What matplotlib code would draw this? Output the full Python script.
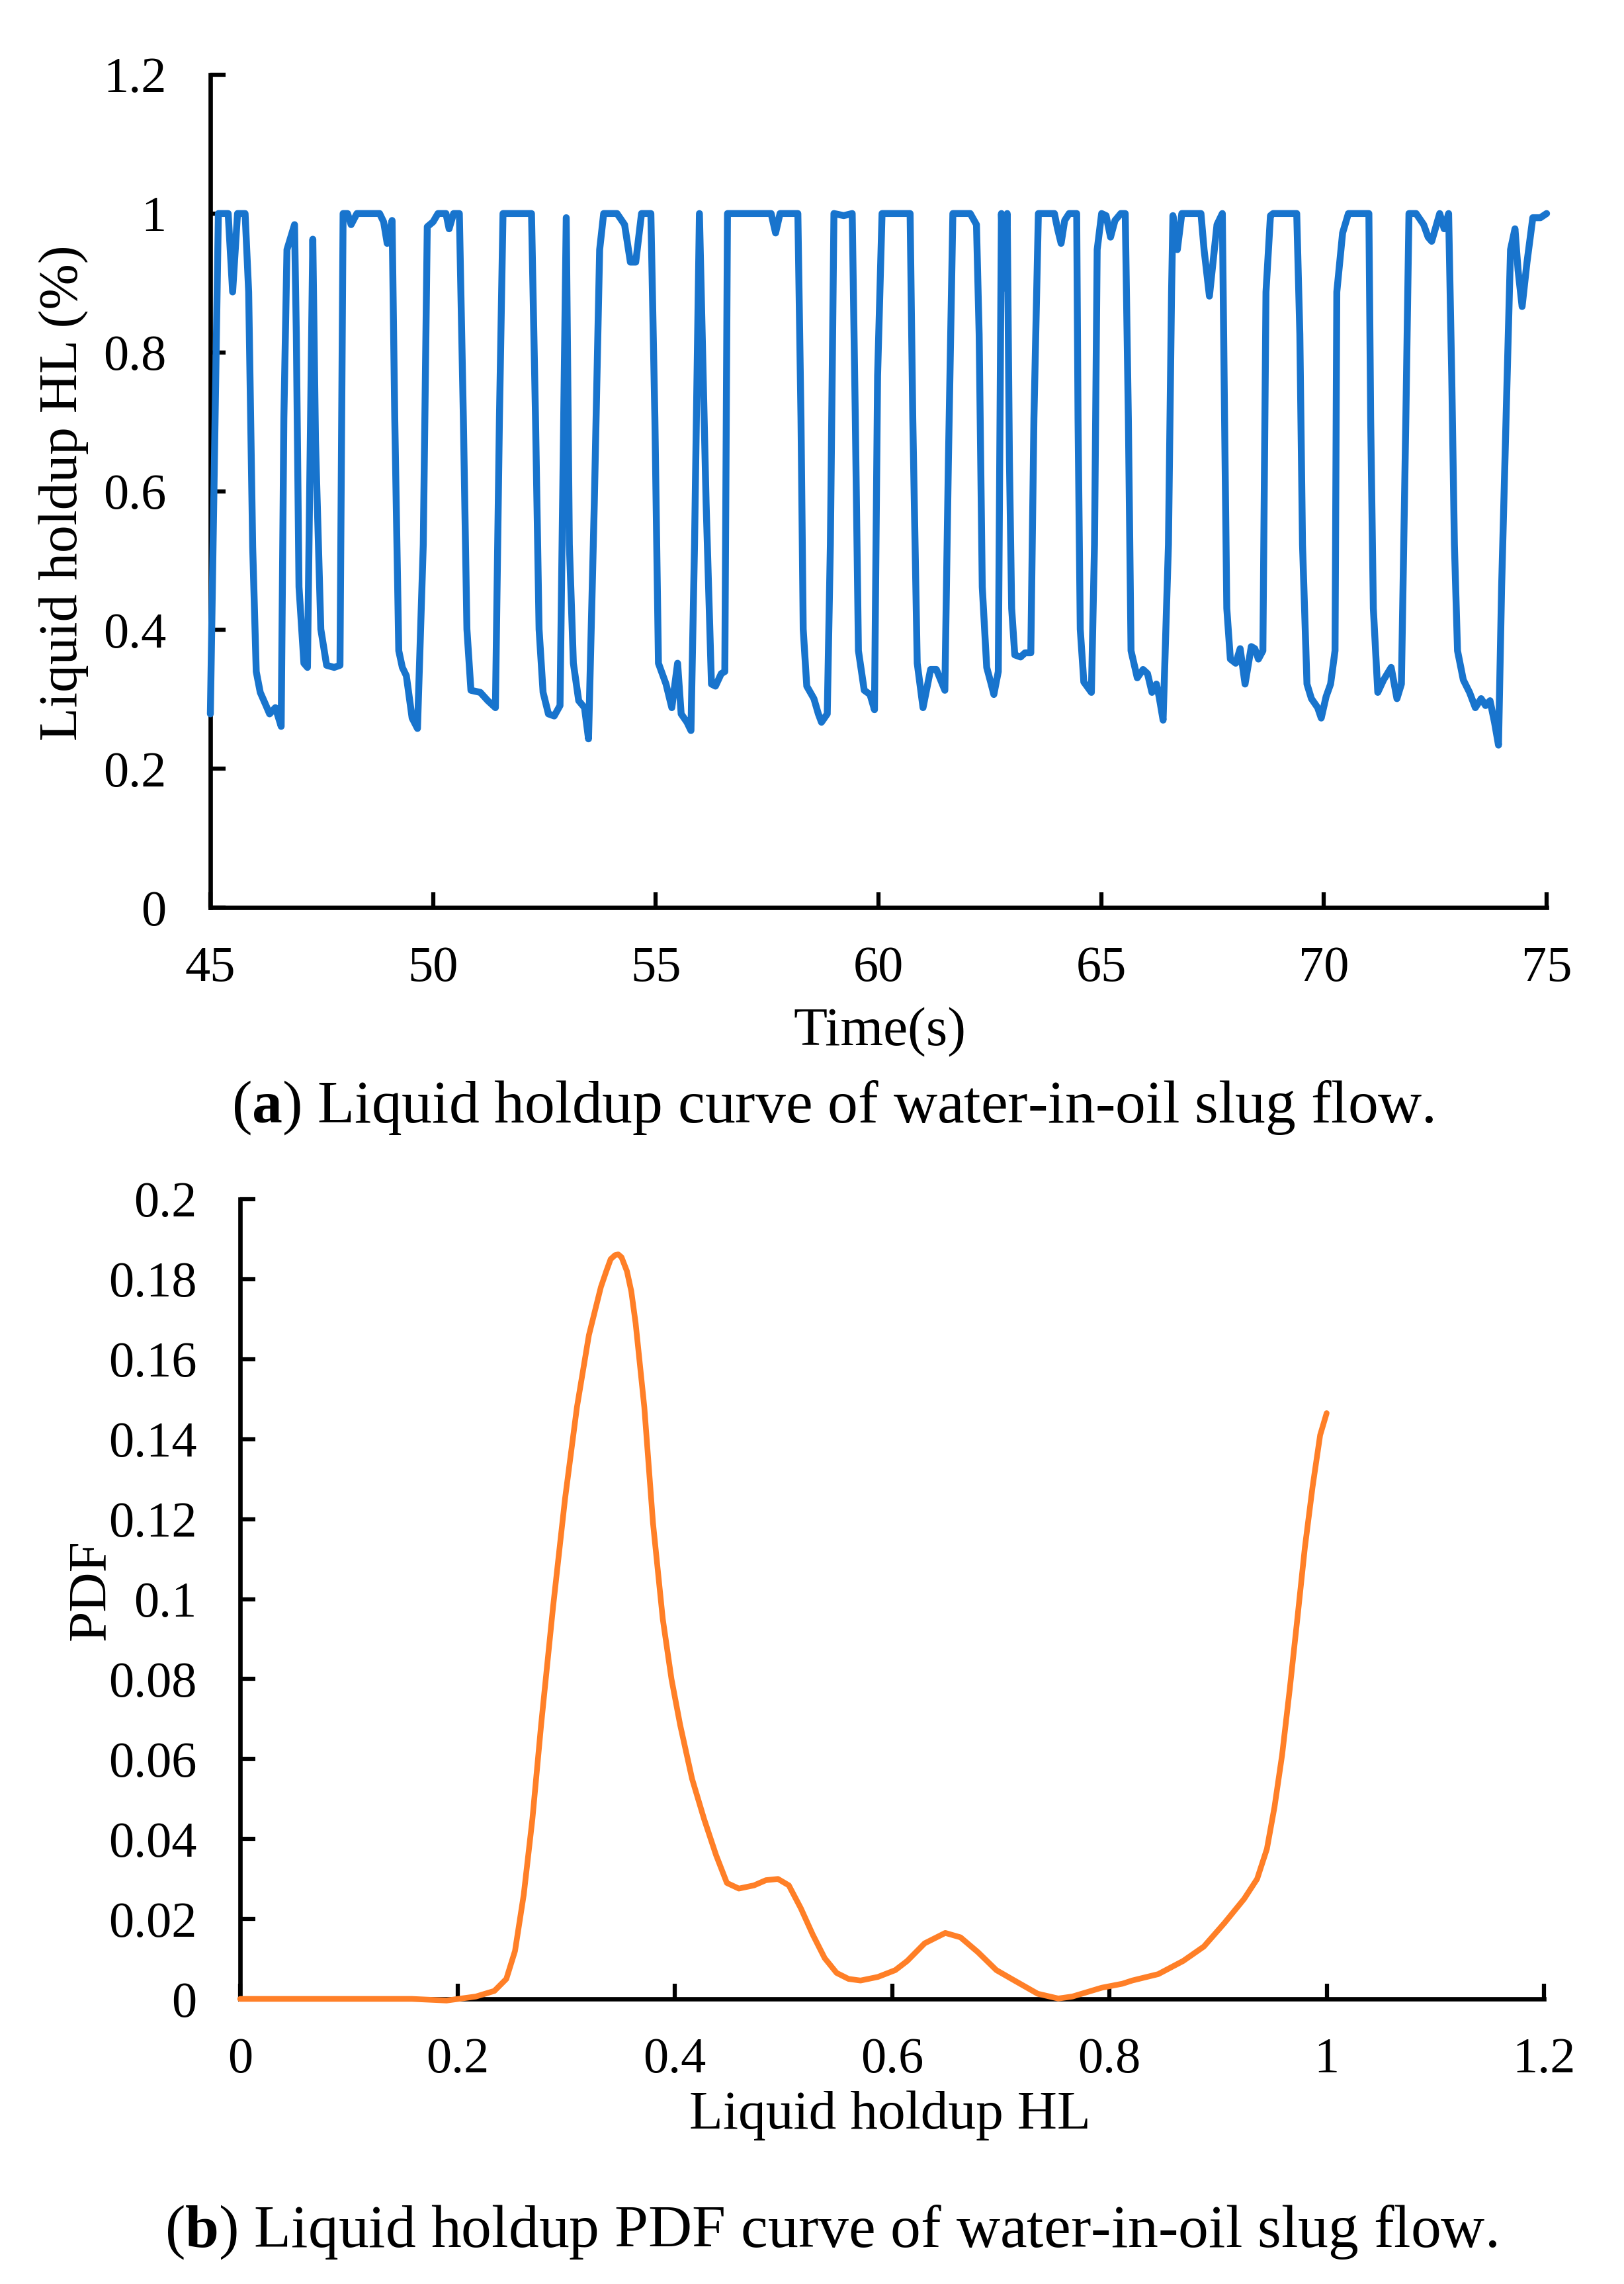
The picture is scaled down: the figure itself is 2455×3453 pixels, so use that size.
import matplotlib
matplotlib.use("Agg")
import matplotlib.pyplot as plt
from matplotlib.ticker import FuncFormatter

# ---------------- data ----------------
time_s = [45.00, 45.18, 45.40, 45.50, 45.61, 45.78, 45.86, 45.95, 46.03, 46.12,
          46.25, 46.33, 46.46, 46.59, 46.65, 46.72, 46.89, 46.93, 46.99, 47.10,
          47.18, 47.30, 47.36, 47.48, 47.61, 47.78, 47.91, 47.98, 48.08, 48.16,
          48.29, 48.80, 48.89, 48.97, 49.08, 49.14, 49.23, 49.31, 49.40, 49.53,
          49.65, 49.78, 49.87, 50.00, 50.11, 50.29, 50.36, 50.46, 50.59, 50.68,
          50.76, 50.85, 51.06, 51.23, 51.40, 51.49, 51.57, 52.21, 52.30, 52.38,
          52.47, 52.59, 52.72, 52.85, 52.99, 53.06, 53.15, 53.27, 53.40, 53.49,
          53.62, 53.74, 53.83, 54.13, 54.30, 54.43, 54.55, 54.68, 54.89, 54.98,
          55.06, 55.23, 55.36, 55.49, 55.57, 55.70, 55.79, 55.87, 55.98, 56.13,
          56.25, 56.34, 56.47, 56.55, 56.61,
          57.59, 57.69, 57.79, 58.19, 58.26, 58.31, 58.39, 58.55, 58.65, 58.72,
          58.85, 58.92, 59.00, 59.22, 59.41, 59.48, 59.55, 59.68, 59.81, 59.91,
          59.98, 60.08, 60.71, 60.77, 60.87, 61.00, 61.17, 61.30, 61.49, 61.57,
          61.67, 62.06, 62.20, 62.26, 62.33, 62.43, 62.53, 62.59, 62.69, 62.76,
          62.82, 62.89, 62.94, 62.99, 63.06, 63.19, 63.29, 63.42, 63.49, 63.59,
          63.95, 64.02, 64.10, 64.18, 64.28, 64.45, 64.48, 64.53, 64.61, 64.78,
          64.85, 64.91, 65.01, 65.11, 65.21, 65.31, 65.44, 65.54, 65.61, 65.67,
          65.81, 65.94, 66.04, 66.14, 66.24, 66.30, 66.39,
          66.51, 66.58, 66.61, 66.71, 66.81, 67.24, 67.31, 67.43, 67.54, 67.60,
          67.72, 67.77, 67.82, 67.90, 68.02, 68.12, 68.23, 68.37, 68.45, 68.53,
          68.63, 68.70, 68.80, 68.86, 69.39, 69.46, 69.52, 69.62, 69.72, 69.86,
          69.94, 70.05, 70.15, 70.25, 70.29, 70.42, 70.55, 71.01, 71.05, 71.11,
          71.21, 71.34, 71.51, 71.64, 71.74, 71.84, 71.91, 72.07, 72.24, 72.34,
          72.42, 72.60, 72.70, 72.80, 72.87, 72.93, 73.00, 73.13, 73.27, 73.40,
          73.53, 73.63, 73.73, 73.83, 73.92, 73.99, 74.09, 74.19, 74.29, 74.36,
          74.45, 74.56, 74.69, 74.86, 75.00]
holdup = [0.279, 1.000, 1.000, 0.887, 1.000, 1.000, 0.887, 0.520, 0.340, 0.310,
          0.291, 0.279, 0.288, 0.261, 0.705, 0.948, 0.984, 0.826, 0.462, 0.352,
          0.346, 0.963, 0.674, 0.401, 0.349, 0.346, 0.349, 1.000, 1.000, 0.984,
          1.000, 1.000, 0.988, 0.957, 0.990, 0.705, 0.370, 0.346, 0.334, 0.273,
          0.258, 0.523, 0.981, 0.988, 1.000, 1.000, 0.978, 1.000, 1.000, 0.705,
          0.401, 0.313, 0.310, 0.298, 0.288, 0.705, 1.000, 1.000, 0.705, 0.401,
          0.310, 0.279, 0.276, 0.291, 0.994, 0.523, 0.352, 0.298, 0.288, 0.243,
          0.583, 0.948, 1.000, 1.000, 0.984, 0.930, 0.930, 1.000, 1.000, 0.705,
          0.352, 0.322, 0.288, 0.352, 0.279, 0.267, 0.255, 0.523, 1.000, 0.583,
          0.322, 0.319, 0.337, 0.340, 1.000,
          1.000, 0.972, 1.000, 1.000, 0.705, 0.401, 0.319, 0.301, 0.279, 0.267,
          0.279, 0.523, 1.000, 0.997, 1.000, 0.705, 0.370, 0.313, 0.307, 0.285,
          0.766, 1.000, 1.000, 0.705, 0.352, 0.288, 0.343, 0.343, 0.313, 0.644,
          1.000, 1.000, 0.984, 0.826, 0.462, 0.346, 0.322, 0.307, 0.340, 1.000,
          0.893, 1.000, 0.644, 0.431, 0.364, 0.361, 0.367, 0.367, 0.705, 1.000,
          1.000, 0.978, 0.957, 0.990, 1.000, 1.000, 0.705, 0.401, 0.325, 0.310,
          0.523, 0.948, 1.000, 0.997, 0.966, 0.990, 1.000, 1.000, 0.705, 0.370,
          0.331, 0.343, 0.337, 0.310, 0.322, 0.304, 0.270,
          0.523, 0.887, 0.997, 0.948, 1.000, 1.000, 0.948, 0.881, 0.948, 0.984,
          1.000, 0.705, 0.431, 0.358, 0.352, 0.373, 0.322, 0.376, 0.373, 0.358,
          0.370, 0.887, 0.997, 1.000, 1.000, 0.826, 0.523, 0.322, 0.301, 0.288,
          0.273, 0.304, 0.322, 0.370, 0.887, 0.972, 1.000, 1.000, 0.705, 0.431,
          0.310, 0.328, 0.346, 0.301, 0.322, 0.705, 1.000, 1.000, 0.984, 0.966,
          0.960, 1.000, 0.978, 1.000, 0.766, 0.523, 0.370, 0.328, 0.310, 0.288,
          0.301, 0.291, 0.298, 0.267, 0.234, 0.462, 0.705, 0.948, 0.978, 0.918,
          0.866, 0.930, 0.994, 0.994, 1.000]

hl_values = [0.000, 0.158, 0.190, 0.217, 0.234, 0.245, 0.253, 0.261, 0.269, 0.277,
             0.288, 0.299, 0.310, 0.321, 0.332, 0.337, 0.341, 0.345, 0.348, 0.351,
             0.356, 0.360, 0.364, 0.372,
             0.380, 0.389, 0.397, 0.405, 0.416, 0.427, 0.438, 0.448, 0.459, 0.473,
             0.484, 0.495, 0.505, 0.516, 0.527, 0.538, 0.549, 0.560, 0.571, 0.587,
             0.603, 0.614, 0.630, 0.649, 0.663, 0.679, 0.696, 0.712, 0.734, 0.753,
             0.766, 0.793, 0.812, 0.821, 0.845, 0.868, 0.887, 0.906, 0.924, 0.936,
             0.945, 0.952, 0.959, 0.966, 0.973, 0.980, 0.987, 0.994, 1.000]
pdf_values = [0.0000, 0.0000, -0.0004, 0.0006, 0.0020, 0.0050, 0.0120, 0.0260, 0.0450, 0.0685,
              0.0980, 0.1250, 0.1480, 0.1660, 0.1780, 0.1820, 0.1850, 0.1860, 0.1862, 0.1855,
              0.1820, 0.1770, 0.1690, 0.1480,
              0.1190, 0.0950, 0.0800, 0.0685, 0.0550, 0.0450, 0.0360, 0.0290, 0.0276, 0.0284,
              0.0297, 0.0300, 0.0284, 0.0227, 0.0161, 0.0102, 0.0065, 0.0050, 0.0046, 0.0055,
              0.0072, 0.0095, 0.0139, 0.0165, 0.0154, 0.0117, 0.0072, 0.0047, 0.0013, 0.0001,
              0.0006, 0.0028, 0.0038, 0.0046, 0.0062, 0.0095, 0.0131, 0.0190, 0.0250, 0.0300,
              0.0375, 0.0480, 0.0610, 0.0774, 0.0950, 0.1130, 0.1280, 0.1410, 0.1465]

time_ticks = [45, 50, 55, 60, 65, 70, 75]
holdup_ticks = [0, 0.2, 0.4, 0.6, 0.8, 1.0, 1.2]
hl_ticks = [0, 0.2, 0.4, 0.6, 0.8, 1.0, 1.2]
pdf_ticks = [0, 0.02, 0.04, 0.06, 0.08, 0.1, 0.12, 0.14, 0.16, 0.18, 0.2]

caption_a = r"($\mathbf{a}$) Liquid holdup curve of water-in-oil slug flow."
caption_b = r"($\mathbf{b}$) Liquid holdup PDF curve of water-in-oil slug flow."

# ---------------- style ----------------
plt.rcParams['font.family'] = ['Liberation Serif', 'DejaVu Serif']
plt.rcParams['mathtext.fontset'] = 'custom'
plt.rcParams['mathtext.rm'] = 'Liberation Serif'
plt.rcParams['mathtext.bf'] = 'Liberation Serif:bold'

W, H = 2455, 3453
fig = plt.figure(figsize=(W / 100, H / 100), dpi=100)

def fx(px):
    return px / W

def fy(py):
    return 1 - py / H

fmt = FuncFormatter(lambda v, p: f"{v:g}")

def style(ax, ypad):
    for s in ('top', 'right'):
        ax.spines[s].set_visible(False)
    for s in ('left', 'bottom'):
        ax.spines[s].set_linewidth(4.8)
        ax.spines[s].set_capstyle('projecting')
    ax.tick_params(axis='both', direction='in', length=16.5, width=4.5,
                   labelsize=55, colors='black')
    ax.tick_params(axis='y', pad=ypad)
    ax.tick_params(axis='x', pad=42)
    ax.xaxis.set_major_formatter(fmt)
    ax.yaxis.set_major_formatter(fmt)

# top axes
ax1 = fig.add_axes([fx(318), fy(1372), fx(2338) - fx(318), fy(113) - fy(1372)])
ax1.plot(time_s, holdup, color='#1874CD', linewidth=7.5, clip_on=False, zorder=3,
         solid_joinstyle='round', solid_capstyle='round')
ax1.set_xlim(45, 75)
ax1.set_ylim(0, 1.2)
ax1.set_xticks(time_ticks)
ax1.set_yticks(holdup_ticks)
style(ax1, 48)

# bottom axes
ax2 = fig.add_axes([fx(363), fy(3022), fx(2334) - fx(363), fy(1813) - fy(3022)])
ax2.plot(hl_values, pdf_values, color='#FF7F27', linewidth=6.2, clip_on=False, zorder=3,
         solid_joinstyle='round', solid_capstyle='round')
ax2.set_xlim(0, 1.2)
ax2.set_ylim(0, 0.2)
ax2.set_xticks(hl_ticks)
ax2.set_yticks(pdf_ticks)
style(ax2, 47)

# labels and captions
fig.text(fx(1330), fy(1580), "Time(s)", fontsize=60, ha='center', va='baseline')
fig.text(fx(96), fy(745), "Liquid holdup HL (%)", fontsize=60, ha='center', va='center',
         rotation=90)
fig.text(fx(1259), fy(1697), caption_a, fontsize=66, ha='center', va='baseline')

fig.text(fx(1345), fy(3218), "Liquid holdup HL", fontsize=60, ha='center', va='baseline')
fig.text(fx(138), fy(2403), "PDF", fontsize=60, ha='center', va='center', rotation=90)
fig.text(fx(1256), fy(3397), caption_b, fontsize=66, ha='center', va='baseline')

fig.savefig("out.png", dpi=100, facecolor='white')
